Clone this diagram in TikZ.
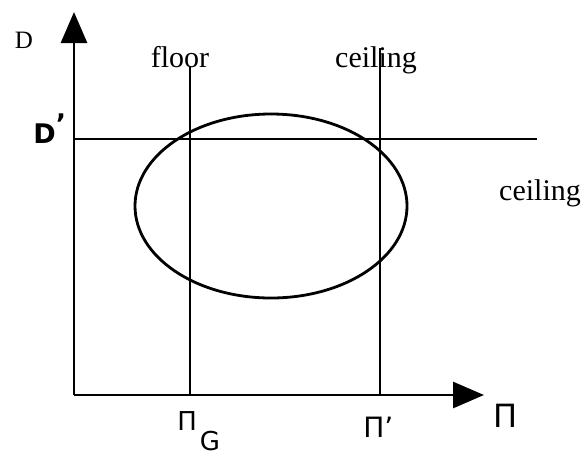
\documentclass[tikz,border=0pt]{standalone}
\usepackage{fontspec}
\setmainfont{Liberation Serif}
\setsansfont{DejaVu Sans}
\usetikzlibrary{arrows.meta}
\begin{document}
\begin{tikzpicture}[x=1pt, y=-1pt, line width=2.8pt,
    eje/.style={-{Triangle[length=31pt,width=26pt]}},
    rot/.style={font=\fontsize{30}{34}\selectfont, inner sep=0pt, anchor=base},
    mano/.style={font=\sffamily\fontsize{28}{32}\selectfont, inner sep=0pt, anchor=base west}]
\useasboundingbox (0,0) rectangle (585,456);

% Ejes
\coordinate (O) at (74,395);
\coordinate (Dtop) at (74,12);
\coordinate (Pright) at (484,395);
\draw[eje] (O) -- (Dtop);
\draw[eje] (O) -- (Pright);
\node[rot, font=\fontsize{25}{28}\selectfont] (D) at (24,48) {D};
\node[mano, font=\sffamily\fontsize{32}{34}\selectfont] (P) at (492,427) {Π};

% Lineas floor / ceiling
\coordinate (fb) at (190,395);
\coordinate (ft) at (190,66);
\coordinate (cb) at (380,395);
\coordinate (ct) at (380,48);
\coordinate (dl) at (74,139);
\coordinate (dr) at (537,139);
\draw (fb) -- (ft);
\draw (cb) -- (ct);
\draw (dl) -- (dr);
\node[rot] (floor) at (180,67) {floor};
\node[rot] (ceil1) at (376,67) {ceiling};
\node[rot] (ceil2) at (540,200) {ceiling};
\node[mano, font=\sffamily\bfseries\fontsize{27}{30}\selectfont] (Dp) at (32,143) {D\raisebox{10pt}{'}};
\node[mano, font=\sffamily\fontsize{26}{30}\selectfont] (PG) at (176,430) {Π\hspace{3pt}\raisebox{-20pt}{G}};
\node[mano] (Pp) at (362,437) {Π'};

% Region
\draw (271,206) ellipse (136 and 92);
\end{tikzpicture}
\end{document}
